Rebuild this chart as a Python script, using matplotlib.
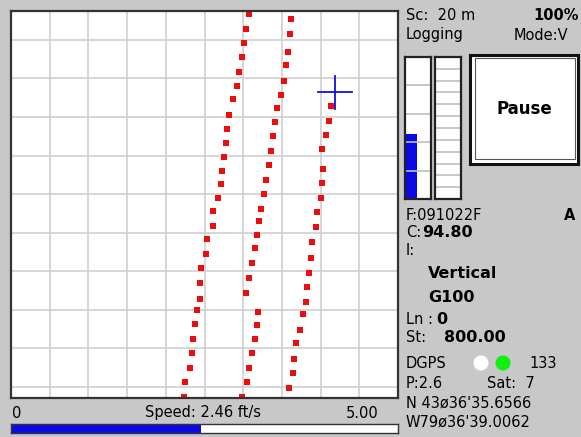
import numpy as np
import matplotlib.pyplot as plt
import matplotlib.patches as patches

# GPS track points (metres east / north, grid = 20 m)
t1_x = [122.9, 121.2, 120.4, 119.5, 117.8, 116.6, 114.7, 112.9, 111.7, 110.9, 110.0, 108.8, 108.3, 107.1,
        104.3, 104.3, 101.4, 100.9, 98.4, 97.9, 97.9, 96.2, 95.3, 94.1, 93.6, 92.4, 90.1, 89.3]
t1_y = [193.5, 185.7, 178.3, 171.0, 163.6, 156.1, 149.2, 141.1, 133.7, 126.7, 119.5, 112.0, 105.1, 98.2,
        91.5, 83.7, 76.6, 68.8, 61.6, 53.8, 45.5, 39.9, 32.5, 24.7, 17.8, 10.0, 2.8, -5.0]
t2_x = [144.9, 144.0, 143.2, 142.3, 141.1, 139.4, 137.3, 136.3, 135.6, 134.5, 133.3, 131.8, 130.7, 129.0,
        128.1, 126.9, 126.1, 124.3, 122.9, 121.2, 127.8, 126.9, 126.1, 124.7, 122.9, 122.1, 119.5]
t2_y = [190.7, 182.9, 173.9, 167.0, 158.9, 151.5, 144.9, 137.3, 130.2, 122.6, 115.2, 107.4, 100.1, 92.3,
        86.1, 78.8, 71.9, 64.2, 56.7, 48.9, 39.1, 32.2, 24.7, 17.5, 10.0, 2.8, -5.0]
t3_x = [165.3, 164.4, 162.7, 160.6, 161.3, 160.5, 160.1, 158.0, 157.5, 155.8, 154.9, 154.0, 153.2, 152.3,
        151.1, 149.4, 147.5, 146.3, 145.7, 143.7]
t3_y = [145.8, 138.1, 130.7, 123.3, 112.9, 105.6, 98.2, 90.6, 82.8, 75.4, 66.7, 59.3, 52.0, 44.2,
        37.9, 29.6, 22.7, 14.5, 7.1, -0.4]
cursor = (167.5, 152.9)

speed, speed_max = 2.46, 5.00
sig1, sig2 = 0.46, 0.0

W, H = 581, 437
BG = '#c8c8c8'
plt.rcParams['font.family'] = 'DejaVu Sans'

fig = plt.figure(figsize=(W / 100, H / 100), dpi=100, facecolor=BG)

def rect(x, y, w, h):
    return [x / W, 1 - (y + h) / H, w / W, h / H]

def txt(x, y, s, **kw):
    kw.setdefault('fontsize', 10.5)
    kw.setdefault('va', 'center')
    fig.text(x / W, 1 - y / H, s, color='black', **kw)

def dot(x, y, color):
    fig.add_artist(patches.Ellipse((x / W, 1 - y / H), 15 / W, 15 / H,
                                   transform=fig.transFigure, fc=color, ec='none'))

# map
ax = fig.add_axes(rect(11, 11, 387, 387))
ax.set_facecolor('white')
ax.set_xlim(0, 200)
ax.set_ylim(-5.7, 195)
ax.set_xticks(np.arange(20, 200, 20))
ax.set_yticks(np.arange(0, 181, 20))
ax.grid(True, color='#cfcfcf', lw=1.2)
ax.tick_params(length=0, labelbottom=False, labelleft=False)
for sp in ax.spines.values():
    sp.set_color('#333333'); sp.set_linewidth(1.6)
for xs, ys in [(t1_x, t1_y), (t2_x, t2_y), (t3_x, t3_y)]:
    ax.plot(xs, ys, 's', color='#ee0d0d', ms=4, mew=0, clip_on=True)
ax.plot([cursor[0] - 8.8, cursor[0] + 8.8], [cursor[1]] * 2, color='#1010e0', lw=1.3)
ax.plot([cursor[0]] * 2, [cursor[1] - 8.5, cursor[1] + 8.5], color='#1010e0', lw=1.3)

# speed bar
txt(12, 413, '0')
txt(203, 413, f'Speed: {speed:.2f} ft/s', ha='center')
txt(379, 413, f'{speed_max:.2f}', ha='right')
axs = fig.add_axes(rect(11, 424, 387, 9))
axs.barh(0, speed, height=1, color='#0a0ae6')
axs.set_xlim(0, speed_max); axs.set_ylim(-0.5, 0.5)
axs.set_facecolor('white'); axs.set_xticks([]); axs.set_yticks([])
for sp in axs.spines.values():
    sp.set_color('#333333'); sp.set_linewidth(1)

# signal bars
for x0, val, n in [(405, sig1, 5), (435, sig2, 12)]:
    b = fig.add_axes(rect(x0, 57, 26, 142))
    b.set_xlim(0, 1); b.set_ylim(0, 1)
    b.bar(0.03, val, width=0.42, align='edge', color='#0a0ae6')
    for yy in np.arange(1, n) / n:
        b.axhline(yy, color='#c0c0c0', lw=1.2)
    b.set_xticks([]); b.set_yticks([])
    b.set_facecolor('white')
    for sp in b.spines.values():
        sp.set_color('#222222'); sp.set_linewidth(1.6)

# pause button
pb = fig.add_axes(rect(470, 55, 108, 109))
pb.set_xlim(0, 1); pb.set_ylim(0, 1)
pb.set_xticks([]); pb.set_yticks([])
pb.set_facecolor('white')
for sp in pb.spines.values():
    sp.set_color('#111111'); sp.set_linewidth(2.2)
pb.add_patch(patches.Rectangle((0.05, 0.05), 0.92, 0.92, fill=False, lw=0.8, ec='#555555'))
pb.text(0.5, 0.5, 'Pause', ha='center', va='center', fontsize=12, fontweight='bold')

# info panel
txt(406, 15, 'Sc:  20 m')
txt(579, 15, '100%', ha='right', fontweight='bold')
txt(406, 35, 'Logging')
txt(568, 35, 'Mode:V', ha='right')
txt(406, 215, 'F:091022F')
txt(575, 215, 'A', ha='right', fontweight='bold')
txt(406, 233, 'C:')
txt(422, 233, '94.80', fontweight='bold', fontsize=11.5)
txt(406, 250, 'I:')
txt(428, 273, 'Vertical', fontweight='bold', fontsize=11.5)
txt(428, 297, 'G100', fontweight='bold', fontsize=11.5)
txt(406, 320, 'Ln :')
txt(436, 320, '0', fontweight='bold', fontsize=11.5)
txt(406, 338, 'St:')
txt(444, 338, '800.00', fontweight='bold', fontsize=11.5)
txt(406, 363, 'DGPS')
dot(481, 363, 'white')
dot(503, 363, '#11ee11')
txt(529, 363, '133')
txt(406, 383, 'P:2.6')
txt(487, 383, 'Sat:  7')
txt(406, 403, "N 43ø36'35.6566")
txt(406, 422, "W79ø36'39.0062")

fig.savefig('out.png', dpi=100, facecolor=BG)
